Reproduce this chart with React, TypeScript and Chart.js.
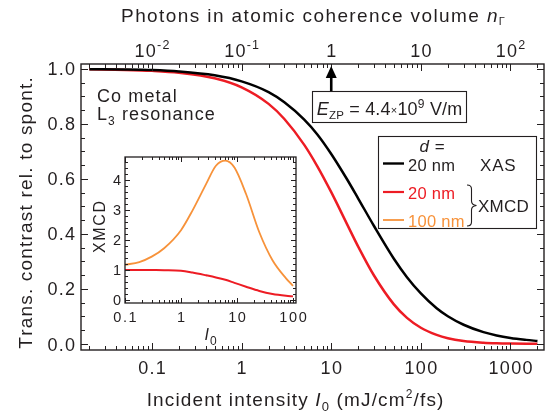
import React, { useEffect, useRef } from "react";
import { Chart, registerables } from "chart.js";

Chart.register(...registerables);

// ---------------- data ----------------
const mainIntensity = [0.02, 0.05, 0.1, 0.2, 0.5, 1, 2, 3, 5, 7, 10, 15, 20, 30, 50, 70, 100, 150, 200, 300, 500, 700, 1000, 1500, 2000];
const xas20nm = [0.999, 0.998, 0.996, 0.991, 0.977, 0.955, 0.916, 0.879, 0.816, 0.762, 0.691, 0.599, 0.529, 0.429, 0.31, 0.243, 0.184, 0.13, 0.101, 0.07, 0.043, 0.031, 0.022, 0.015, 0.011];
const xmcd20nm = [0.9986, 0.9965, 0.993, 0.986, 0.966, 0.933, 0.873, 0.818, 0.724, 0.646, 0.552, 0.436, 0.354, 0.249, 0.144, 0.095, 0.059, 0.033, 0.021, 0.011, 0.0048, 0.0027, 0.0015, 0.0007, 0.0005];

const insetIntensity = [0.1, 0.18, 0.3, 0.5, 1, 1.6, 2.8, 4.2, 6.2, 9, 14.5, 25, 43, 75, 100];
const insetXmcd20nm = [1.0, 1.0, 0.995, 0.99, 0.97, 0.91, 0.82, 0.75, 0.67, 0.57, 0.44, 0.3, 0.2, 0.14, 0.12];
const insetXmcd100nm = [1.17, 1.26, 1.44, 1.72, 2.32, 2.97, 3.85, 4.46, 4.63, 4.4, 3.52, 2.25, 1.32, 0.72, 0.47];

const bottomTicks = [0.1, 1, 10, 100, 1000];
const bottomTickLabels = ["0.1", "1", "10", "100", "1000"];
const topTicks = [0.01, 0.1, 1, 10, 100];
const topTickBase = ["10", "10", "1", "10", "10"];
const topTickExp = ["-2", "-1", "", "", "2"];
const yTicks = [0, 0.2, 0.4, 0.6, 0.8, 1.0];
const insetXTicks = [0.1, 1, 10, 100];
const insetXTickLabels = ["0.1", "1", "10", "100"];
const insetYTicks = [0, 1, 2, 3, 4];
const zeroPointPhotons = 1; // n_Γ marked by the E_ZP arrow

// ---------------- styling ----------------
const FONT = '"Liberation Sans", Arial, Helvetica, sans-serif';
const INK = "#231f20";
const BLACK = "#000000";
const RED = "#ed1c24";
const ORANGE = "#f7923a";

type Run = { t: string; size: number; italic?: boolean; dy?: number; color?: string };

function setFont(ctx: CanvasRenderingContext2D, r: Run) {
  ctx.font = `${r.italic ? "italic " : ""}${r.size}px ${FONT}`;
}

function measureRuns(ctx: CanvasRenderingContext2D, runs: Run[], sp: number) {
  let w = 0;
  let n = 0;
  for (const r of runs) {
    setFont(ctx, r);
    for (const ch of Array.from(r.t)) {
      w += ctx.measureText(ch).width;
      n++;
    }
  }
  return w + Math.max(0, n - 1) * sp;
}

function drawRuns(
  ctx: CanvasRenderingContext2D,
  runs: Run[],
  x: number,
  y: number,
  align: "left" | "center" | "right",
  sp: number
) {
  const w = measureRuns(ctx, runs, sp);
  let cx = align === "left" ? x : align === "center" ? x - w / 2 : x - w;
  ctx.textAlign = "left";
  ctx.textBaseline = "alphabetic";
  for (const r of runs) {
    setFont(ctx, r);
    ctx.fillStyle = r.color ?? INK;
    for (const ch of Array.from(r.t)) {
      ctx.fillText(ch, cx, y + (r.dy ?? 0));
      cx += ctx.measureText(ch).width + sp;
    }
  }
}

function seg(ctx: CanvasRenderingContext2D, x1: number, y1: number, x2: number, y2: number) {
  ctx.beginPath();
  ctx.moveTo(x1, y1);
  ctx.lineTo(x2, y2);
  ctx.stroke();
}

// ---------------- main chart decorations ----------------
const mainDecor = {
  id: "mainDecor",
  afterDraw(chart: any) {
    const ctx: CanvasRenderingContext2D = chart.ctx;
    const ca = chart.chartArea;
    const xs = chart.scales.x;
    const xt = chart.scales.x2;
    const ys = chart.scales.y;
    ctx.save();
    ctx.strokeStyle = INK;
    ctx.lineWidth = 1;

    // log ticks bottom / top
    for (let d = -3; d <= 4; d++) {
      for (let m = 1; m <= 9; m++) {
        const v = m * Math.pow(10, d);
        if (v >= xs.min && v <= xs.max) {
          const px = Math.round(xs.getPixelForValue(v)) + 0.5;
          seg(ctx, px, ca.bottom, px, ca.bottom - (m === 1 ? 7 : 4));
        }
        if (v >= xt.min && v <= xt.max) {
          const px = Math.round(xt.getPixelForValue(v)) + 0.5;
          seg(ctx, px, ca.top, px, ca.top + (m === 1 ? 7 : 4));
        }
      }
    }
    // y ticks (minor every 0.05)
    for (let k = 0; k <= 20; k++) {
      const v = k * 0.05;
      const py = Math.round(ys.getPixelForValue(v)) + 0.5;
      const len = k % 4 === 0 ? 7 : 4;
      seg(ctx, ca.left, py, ca.left + len, py);
      seg(ctx, ca.right, py, ca.right - len, py);
    }
    // frame
    ctx.lineWidth = 1.4;
    ctx.strokeRect(ca.left, ca.top, ca.right - ca.left, ca.bottom - ca.top);

    // tick labels
    yTicks.forEach((v) => {
      const py = ys.getPixelForValue(v);
      drawRuns(ctx, [{ t: v.toFixed(1), size: 18 }], ca.left - 6, py + 6.5, "right", 1.2);
    });
    bottomTicks.forEach((v, i) => {
      const px = xs.getPixelForValue(v);
      drawRuns(ctx, [{ t: bottomTickLabels[i], size: 18 }], px, 374, "center", 1.3);
    });
    topTicks.forEach((v, i) => {
      const px = xt.getPixelForValue(v);
      const runs: Run[] = [{ t: topTickBase[i], size: 18 }];
      if (topTickExp[i]) runs.push({ t: topTickExp[i], size: 12.5, dy: -8 });
      drawRuns(ctx, runs, px, 57, "center", 1.2);
    });

    // axis titles
    drawRuns(
      ctx,
      [
        { t: "Photons in atomic coherence volume ", size: 19 },
        { t: "n", size: 19, italic: true },
        { t: "Γ", size: 11, dy: 3 },
      ],
      313,
      22,
      "center",
      1.4
    );
    drawRuns(
      ctx,
      [
        { t: "Incident intensity ", size: 19 },
        { t: "I", size: 19, italic: true },
        { t: "0", size: 13, dy: 5 },
        { t: " (mJ/cm", size: 19 },
        { t: "2", size: 12, dy: -8 },
        { t: "/fs)", size: 19 },
      ],
      295,
      406,
      "center",
      1.15
    );
    ctx.save();
    ctx.translate(32, 213);
    ctx.rotate(-Math.PI / 2);
    drawRuns(ctx, [{ t: "Trans. contrast rel. to spont.", size: 19 }], 0, 0, "center", 1.2);
    ctx.restore();

    // Co metal text
    drawRuns(ctx, [{ t: "Co metal", size: 18 }], 97, 102, "left", 1.1);
    drawRuns(
      ctx,
      [
        { t: "L", size: 18 },
        { t: "3", size: 12, dy: 5 },
        { t: " resonance", size: 18 },
      ],
      97,
      120,
      "left",
      1.1
    );

    // E_ZP arrow + box
    const ax = xt.getPixelForValue(zeroPointPhotons);
    ctx.strokeStyle = BLACK;
    ctx.fillStyle = BLACK;
    ctx.lineWidth = 2.6;
    seg(ctx, ax, 91, ax, 76);
    ctx.beginPath();
    ctx.moveTo(ax, 66);
    ctx.lineTo(ax - 5.5, 78);
    ctx.lineTo(ax + 5.5, 78);
    ctx.closePath();
    ctx.fill();
    ctx.lineWidth = 1.1;
    ctx.strokeStyle = INK;
    ctx.fillStyle = "#ffffff";
    ctx.fillRect(312, 91, 154, 31);
    ctx.strokeRect(312.5, 91.5, 154, 31);
    drawRuns(
      ctx,
      [
        { t: "E", size: 18, italic: true },
        { t: "ZP", size: 11.5, dy: 4 },
        { t: " = 4.4", size: 18 },
        { t: "×", size: 11, dy: -1 },
        { t: "10", size: 18 },
        { t: "9", size: 12, dy: -7 },
        { t: " V/m", size: 18 },
      ],
      389.5,
      115,
      "center",
      0.2
    );

    // legend box
    ctx.fillStyle = "#ffffff";
    ctx.fillRect(378, 136, 158, 92);
    ctx.strokeStyle = INK;
    ctx.lineWidth = 1.1;
    ctx.strokeRect(378.5, 136.5, 158, 92);
    drawRuns(ctx, [{ t: "d", size: 17, italic: true }, { t: " =", size: 17 }], 432, 152, "center", 0.5);
    const rows = [
      { y: 163.5, c: BLACK, w: 2.4, label: "20 nm", base: 171 },
      { y: 192, c: RED, w: 2.2, label: "20 nm", base: 198.5 },
      { y: 220, c: ORANGE, w: 1.8, label: "100 nm", base: 226.5 },
    ];
    rows.forEach((r) => {
      ctx.strokeStyle = r.c;
      ctx.lineWidth = r.w;
      seg(ctx, 383, r.y, 404, r.y);
      drawRuns(ctx, [{ t: r.label, size: 16.5, color: r.c === BLACK ? INK : r.c }], 408, r.base, "left", 0.3);
    });
    drawRuns(ctx, [{ t: "XAS", size: 17 }], 480, 171, "left", 0.8);
    drawRuns(ctx, [{ t: "XMCD", size: 17 }], 478, 212, "left", 0.2);
    // brace
    ctx.strokeStyle = INK;
    ctx.lineWidth = 1.1;
    ctx.beginPath();
    ctx.moveTo(467, 185);
    ctx.quadraticCurveTo(471.5, 185, 471.5, 189);
    ctx.lineTo(471.5, 201);
    ctx.quadraticCurveTo(471.5, 205, 476.5, 205.5);
    ctx.quadraticCurveTo(471.5, 206, 471.5, 210);
    ctx.lineTo(471.5, 222);
    ctx.quadraticCurveTo(471.5, 226, 467, 226);
    ctx.stroke();

    ctx.restore();
  },
};

// ---------------- inset decorations ----------------
const insetDecor = {
  id: "insetDecor",
  afterDraw(chart: any) {
    const ctx: CanvasRenderingContext2D = chart.ctx;
    const ca = chart.chartArea;
    const xs = chart.scales.x;
    const ys = chart.scales.y;
    ctx.save();
    ctx.strokeStyle = INK;
    ctx.lineWidth = 1;
    for (let d = -1; d <= 2; d++) {
      for (let m = 1; m <= 9; m++) {
        const v = m * Math.pow(10, d);
        if (v < xs.min || v > xs.max) continue;
        const px = Math.round(xs.getPixelForValue(v)) + 0.5;
        const len = m === 1 ? 5 : 3;
        seg(ctx, px, ca.bottom, px, ca.bottom - len);
        seg(ctx, px, ca.top, px, ca.top + len);
      }
    }
    for (let k = 0; k <= 23; k++) {
      const v = k * 0.2;
      if (v > ys.max) continue;
      const py = Math.round(ys.getPixelForValue(v)) + 0.5;
      const len = k % 5 === 0 ? 5 : 3;
      seg(ctx, ca.left, py, ca.left + len, py);
      seg(ctx, ca.right, py, ca.right - len, py);
    }
    ctx.lineWidth = 1.3;
    ctx.strokeRect(ca.left, ca.top, ca.right - ca.left, ca.bottom - ca.top);

    insetXTicks.forEach((v, i) => {
      const px = xs.getPixelForValue(v);
      drawRuns(ctx, [{ t: insetXTickLabels[i], size: 14.5 }], px, 172, "center", 1.6);
    });
    insetYTicks.forEach((v) => {
      const py = ys.getPixelForValue(v);
      drawRuns(ctx, [{ t: String(v), size: 14.5 }], ca.left - 4, py + 5.2, "right", 1.6);
    });
    drawRuns(
      ctx,
      [
        { t: "I", size: 16, italic: true },
        { t: "0", size: 12, dy: 5 },
      ],
      (ca.left + ca.right) / 2,
      190,
      "center",
      1
    );
    ctx.save();
    ctx.translate(24.5, (ca.top + ca.bottom) / 2 - 3);
    ctx.rotate(-Math.PI / 2);
    drawRuns(ctx, [{ t: "XMCD", size: 16 }], 0, 0, "center", 1.6);
    ctx.restore();
    ctx.restore();
  },
};

export default function App() {
  const mainRef = useRef<HTMLCanvasElement>(null);
  const insetRef = useRef<HTMLCanvasElement>(null);

  useEffect(() => {
    const hidden = {
      grid: { display: false },
      border: { display: false },
      ticks: { display: false },
    };
    const main = new Chart(mainRef.current as HTMLCanvasElement, {
      type: "line",
      data: {
        datasets: [
          {
            label: "XAS 20 nm",
            data: mainIntensity.map((x, i) => ({ x, y: xas20nm[i] })),
            borderColor: BLACK,
            borderWidth: 2.5,
            pointRadius: 0,
            cubicInterpolationMode: "monotone",
            fill: false,
          },
          {
            label: "XMCD 20 nm",
            data: mainIntensity.map((x, i) => ({ x, y: xmcd20nm[i] })),
            borderColor: RED,
            borderWidth: 2.5,
            pointRadius: 0,
            cubicInterpolationMode: "monotone",
            fill: false,
          },
        ],
      },
      options: {
        animation: false,
        responsive: false,
        layout: { padding: { left: 0, right: 6, top: 0, bottom: 0 } },
        plugins: { legend: { display: false }, tooltip: { enabled: false } },
        scales: {
          x: {
            type: "logarithmic",
            position: "bottom",
            min: 0.01614,
            max: 2366,
            ...hidden,
            afterFit: (s: any) => {
              s.height = 61;
            },
          },
          x2: {
            type: "logarithmic",
            axis: "x",
            position: "top",
            min: 0.001614,
            max: 236.6,
            ...hidden,
            afterFit: (s: any) => {
              s.height = 64;
            },
          },
          y: {
            type: "linear",
            min: -0.0218,
            max: 1.018,
            ...hidden,
            afterFit: (s: any) => {
              s.width = 81;
            },
          },
        },
      } as any,
      plugins: [mainDecor],
    });

    const inset = new Chart(insetRef.current as HTMLCanvasElement, {
      type: "line",
      data: {
        datasets: [
          {
            label: "XMCD 20 nm",
            data: insetIntensity.map((x, i) => ({ x, y: insetXmcd20nm[i] })),
            borderColor: RED,
            borderWidth: 2,
            pointRadius: 0,
            cubicInterpolationMode: "monotone",
            fill: false,
          },
          {
            label: "XMCD 100 nm",
            data: insetIntensity.map((x, i) => ({ x, y: insetXmcd100nm[i] })),
            borderColor: ORANGE,
            borderWidth: 1.8,
            pointRadius: 0,
            cubicInterpolationMode: "monotone",
            fill: false,
          },
        ],
      },
      options: {
        animation: false,
        responsive: false,
        layout: { padding: { left: 0, right: 24, top: 7, bottom: 0 } },
        plugins: { legend: { display: false }, tooltip: { enabled: false } },
        scales: {
          x: {
            type: "logarithmic",
            position: "bottom",
            min: 0.1,
            max: 113,
            ...hidden,
            afterFit: (s: any) => {
              s.height = 47;
            },
          },
          y: {
            type: "linear",
            min: -0.1,
            max: 4.75,
            ...hidden,
            afterFit: (s: any) => {
              s.width = 45;
            },
          },
        },
      } as any,
      plugins: [insetDecor],
    });

    return () => {
      main.destroy();
      inset.destroy();
    };
  }, []);

  return (
    <div style={{ position: "fixed", left: 0, top: 0, width: 550, height: 411, background: "#ffffff" }}>
      <canvas
        ref={mainRef}
        width={550}
        height={411}
        style={{ position: "absolute", left: 0, top: 0, width: 550, height: 411 }}
      />
      <canvas
        ref={insetRef}
        width={240}
        height={200}
        style={{ position: "absolute", left: 80, top: 150, width: 240, height: 200 }}
      />
    </div>
  );
}
